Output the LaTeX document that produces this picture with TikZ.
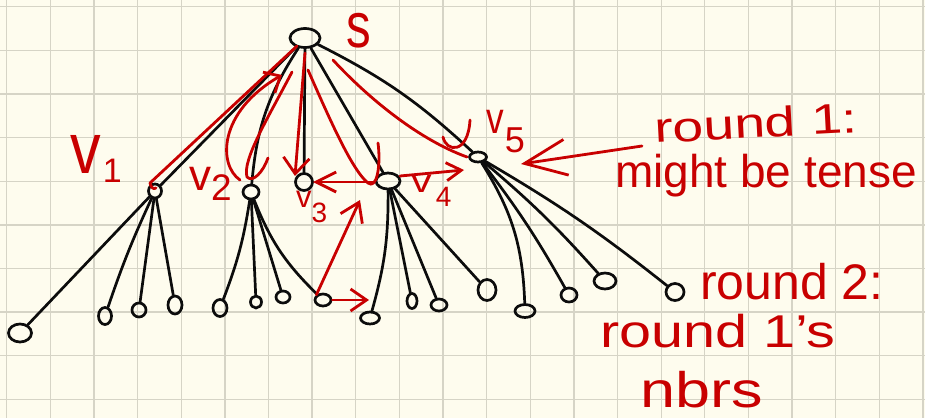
\documentclass[tikz,border=0pt]{standalone}
\usepackage{fontspec}
\setmainfont{Liberation Sans}
\usetikzlibrary{arrows.meta,shapes.geometric}
\definecolor{paper}{RGB}{254,252,238}
\definecolor{gridc}{RGB}{214,212,198}
\definecolor{ink}{RGB}{12,12,12}
\definecolor{pen}{RGB}{200,0,0}
\newcommand\hwsize[1]{\fontsize{#1}{#1}\selectfont}
\begin{document}
\begin{tikzpicture}[x=1pt,y=1pt,
  vtx/.style={draw=ink, line width=2.7pt, ellipse, inner sep=0pt},
  edge/.style={draw=ink, line width=2.7pt, line cap=round},
  note/.style={draw=pen, line width=2.8pt, line cap=round, line join=round},
  hand/.style={text=pen, inner sep=0pt},
]
\fill[paper] (0,0) rectangle (925,-418);
\useasboundingbox (0,0) rectangle (925,-418);
\foreach \i in {0,...,21} {\draw[gridc, line width=1.3pt] ({6.7+43.63*\i},0) -- ({6.7+43.63*\i},-418);}
\foreach \i in {0,...,9} {\draw[gridc, line width=1.3pt] (0,{-6.7-43.63*\i}) -- (925,{-6.7-43.63*\i});}

% vertices
\node[vtx, minimum width=30pt, minimum height=19pt] (s) at (305,-38) {};
\node[vtx, minimum width=13pt, minimum height=14pt] (v1) at (155,-191) {};
\node[vtx, minimum width=16pt, minimum height=14pt] (v2) at (251,-192) {};
\node[vtx, minimum width=17pt, minimum height=17pt] (v3) at (304,-182) {};
\node[vtx, minimum width=24pt, minimum height=16pt] (v4) at (388,-181) {};
\node[vtx, minimum width=17pt, minimum height=10pt] (v5) at (478,-157) {};

\node[vtx, minimum width=23pt, minimum height=18pt] (a) at (20,-333) {};
\node[vtx, minimum width=13pt, minimum height=17pt] (b) at (105,-316) {};
\node[vtx, minimum width=14pt, minimum height=14pt] (c) at (139,-310) {};
\node[vtx, minimum width=14pt, minimum height=18pt] (d) at (175,-305) {};
\node[vtx, minimum width=14pt, minimum height=17pt] (e) at (220,-308) {};
\node[vtx, minimum width=11pt, minimum height=12pt] (f) at (256,-302) {};
\node[vtx, minimum width=14pt, minimum height=12pt] (g) at (283,-297) {};
\node[vtx, minimum width=16pt, minimum height=12pt] (h) at (323,-300) {};
\node[vtx, minimum width=19pt, minimum height=12pt] (i) at (370,-318) {};
\node[vtx, minimum width=10pt, minimum height=15pt] (j) at (412,-301) {};
\node[vtx, minimum width=16pt, minimum height=12pt] (k) at (439,-305) {};
\node[vtx, minimum width=18pt, minimum height=21pt] (l) at (487,-290) {};
\node[vtx, minimum width=20pt, minimum height=13pt] (m) at (525,-311) {};
\node[vtx, minimum width=16pt, minimum height=14pt] (n) at (569,-295) {};
\node[vtx, minimum width=22pt, minimum height=16pt] (o) at (605,-281) {};
\node[vtx, minimum width=18pt, minimum height=17pt] (p) at (675,-292) {};

% black edges
\draw[edge] (s) -- (v1);
\draw[edge] (s) to[bend right=14] (v2);
\draw[edge] (s) -- (v3);
\draw[edge] (s) -- (v4);
\draw[edge] (s) to[bend left=8] (v5);
\draw[edge] (v1) -- (a);
\draw[edge] (v1) to[bend right=3] (b);
\draw[edge] (v1) -- (c);
\draw[edge] (v1) -- (d);
\draw[edge] (v2) to[bend left=6] (e);
\draw[edge] (v2) -- (f);
\draw[edge] (v2) -- (g);
\draw[edge] (v2) to[bend right=12] (h);
\draw[edge] (v4) to[bend left=8] (i);
\draw[edge] (v4) -- (j);
\draw[edge] (v4) -- (k);
\draw[edge] (v4) -- (l);
\draw[edge] (v5) to[bend left=15] (m);
\draw[edge] (v5) to[bend left=4] (n);
\draw[edge] (v5) to[bend left=4] (o);
\draw[edge] (v5) to[bend left=4] (p);

% red annotation points
\coordinate (r1a) at (297,-46);  \coordinate (r1b) at (150,-183);
\coordinate (r2a) at (292,-72);  \coordinate (r2b) at (247,-177); \coordinate (r2c) at (268,-158);
\coordinate (r2d) at (240,-180); \coordinate (r2e) at (282,-75);
\coordinate (r3a) at (305,-53);  \coordinate (r3b) at (295,-176);
\coordinate (r4a) at (308,-70);  \coordinate (r4b) at (368,-183); \coordinate (r4c) at (378,-143);
\coordinate (r5a) at (333,-60);  \coordinate (r5b) at (467,-157);
\coordinate (r5c) at (443,-137); \coordinate (r5d) at (470,-120);
\coordinate (r6a) at (373,-182); \coordinate (r6b) at (313,-182);
\coordinate (r7a) at (400,-176); \coordinate (r7b) at (464,-170);
\coordinate (r8a) at (642,-146); \coordinate (r8b) at (521,-164);
\coordinate (r9b) at (360,-200);
\coordinate (r10b) at (369,-300);

% red strokes
\draw[note] (r1a) -- (r1b) .. controls +(1,-4) and +(-3,-2) .. +(6,-5);
\draw[note] (r2a) .. controls (268,-118) and (242,-160) .. (r2b) .. controls (253,-183) and (263,-172) .. (r2c);
\draw[note, -{Straight Barb[length=13pt,width=24pt]}] (r2d) .. controls (218,-165) and (218,-112) .. (r2e);
\draw[note, -{Straight Barb[length=16pt,width=26pt]}] (r3a) -- (r3b);
\draw[note] (r4a) .. controls (330,-120) and (352,-170) .. (r4b) .. controls (377,-190) and (381,-165) .. (r4c);
\draw[note] (r5a) .. controls (370,-100) and (420,-140) .. (r5b);
\draw[note] (r5c) .. controls (446,-152) and (468,-155) .. (r5d);
\draw[note, -{Straight Barb[length=20pt,width=20pt]}] (r6a) -- (r6b);
\draw[note, -{Straight Barb[length=15pt,width=18pt]}] (r7a) -- (r7b);
\draw[note, -{Straight Barb[length=42pt,width=36pt]}] (r8a) -- (r8b);
\draw[note, -{Straight Barb[length=18pt,width=24pt]}] (h.north west) -- (r9b);
\draw[note, -{Straight Barb[length=16pt,width=22pt]}] (h.east) -- (r10b);

% labels
\node[hand, anchor=base] (ls) at (359,-47) {\hwsize{58}\scalebox{0.85}[1.1]{s}};
\node[hand, anchor=base west] (lv1) at (70,-173) {\hwsize{72}\scalebox{0.85}[1]{v}\kern2pt\raisebox{-9pt}{\hwsize{34}1}};
\node[hand, anchor=base west] (lv2) at (189,-190) {\hwsize{44}v\raisebox{-10pt}{\hwsize{37}2}};
\node[hand, anchor=base west] (lv3) at (296,-207) {\hwsize{31}v\raisebox{-15pt}{\hwsize{28}3}};
\node[hand, anchor=base west] (lv4) at (411,-192) {\hwsize{33}\scalebox{1.25}[1]{v}\hspace{4pt}\raisebox{-14pt}{\hwsize{28}4}};
\node[hand, anchor=base west] (lv5) at (486,-133) {\hwsize{44}\scalebox{0.8}[1]{v}\hspace{1pt}\raisebox{-19pt}{\hwsize{36}5}};

\node[hand, anchor=base west, rotate=3] (t1) at (655,-143) {\hwsize{42}\scalebox{1.32}[1]{round 1:}};
\node[hand, anchor=base west] (t2) at (615,-187) {\hwsize{46}might be tense};
\node[hand, anchor=base west] (t3) at (700,-299) {\hwsize{50}round 2:};
\node[hand, anchor=base west] (t4) at (600,-347) {\hwsize{46}\scalebox{1.25}[1]{round 1's}};
\node[hand, anchor=base west] (t5) at (640,-407) {\hwsize{50}\scalebox{1.26}[1]{nbrs}};
\end{tikzpicture}
\end{document}
